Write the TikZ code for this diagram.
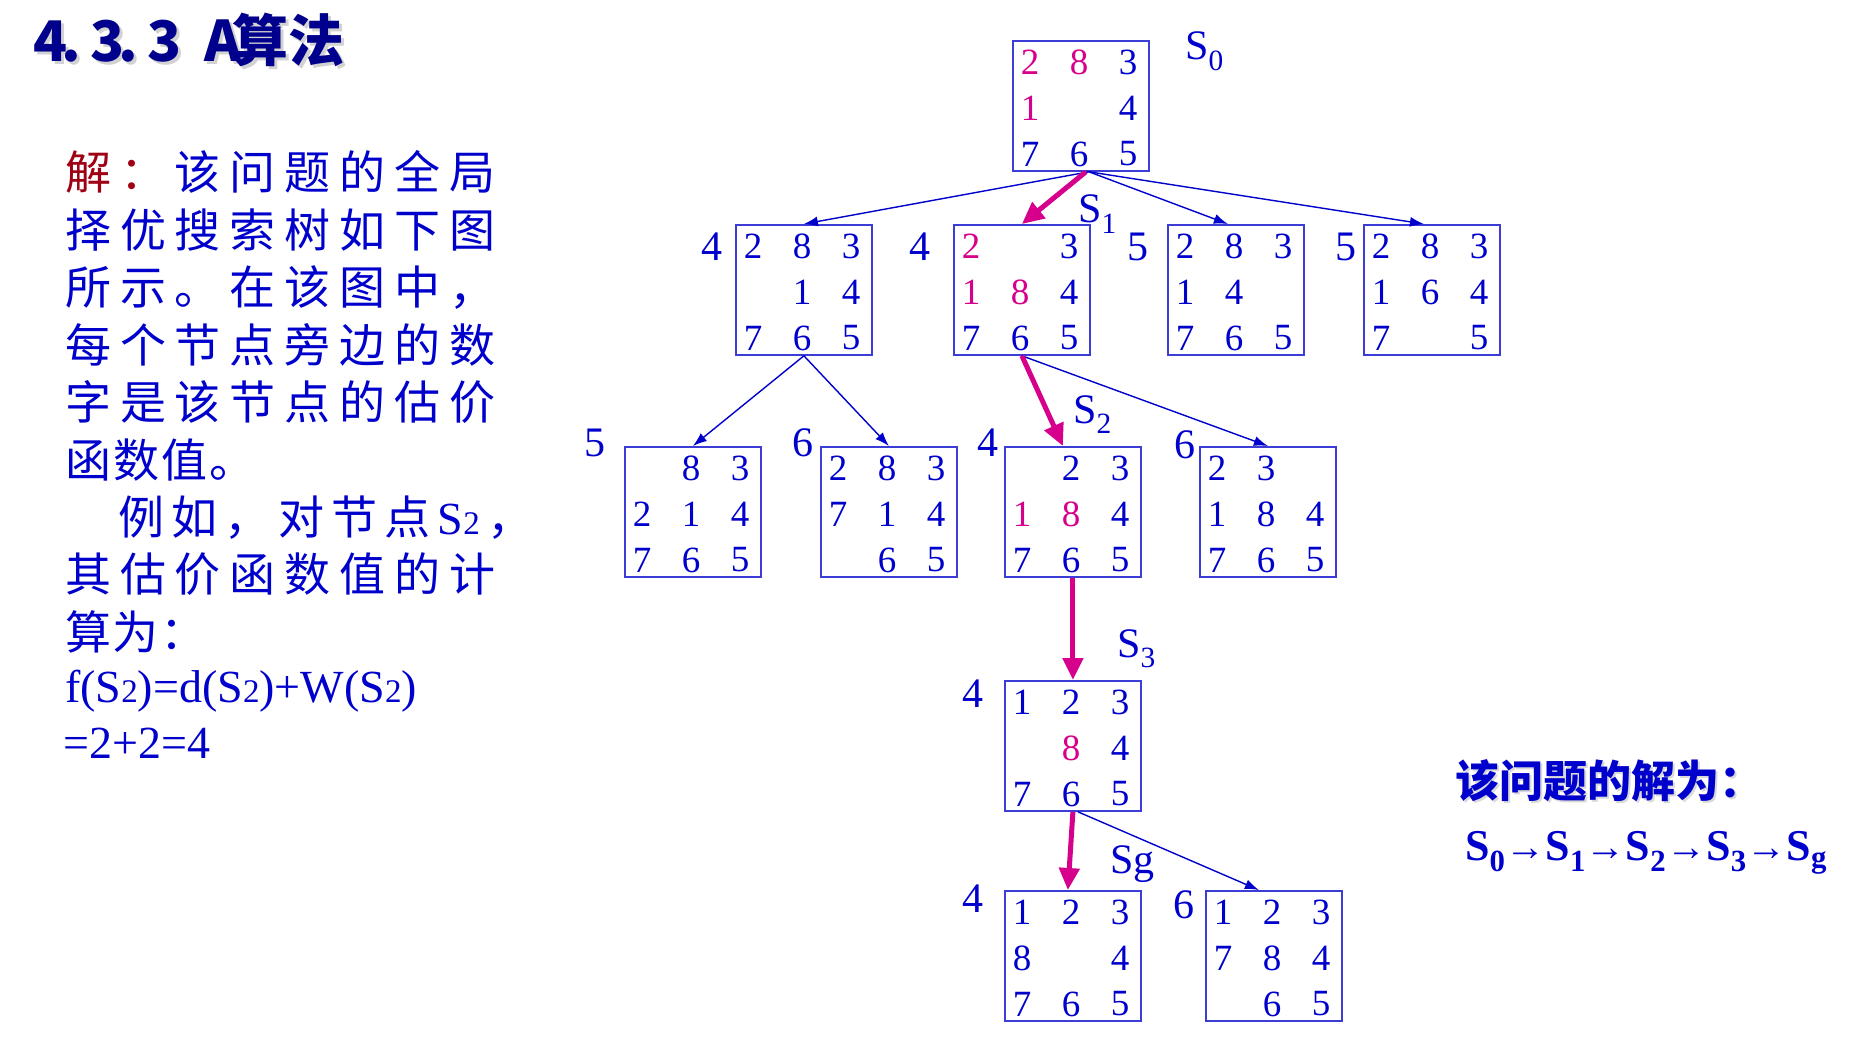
\documentclass[tikz,border=0pt]{standalone}
\usepackage{fontspec}
\setmainfont{Liberation Serif}
\newfontfamily\cjk{Noto Sans CJK SC}
\usetikzlibrary{arrows.meta,calc}

\definecolor{numblue}{RGB}{0,0,205}
\definecolor{frameblue}{RGB}{60,60,215}
\definecolor{pathpink}{RGB}{214,0,140}
\definecolor{titlenavy}{RGB}{0,0,140}
\definecolor{solred}{RGB}{160,0,20}

\def\pk#1{\textcolor{pathpink}{#1}}
\def\jie{\textcolor{solred}{解}}
\def\jiec{\textcolor{solred}{：}}
\def\Stwo{{\rmfamily S{\fontsize{33}{33}\selectfont 2}}}
\def\half#1{\makebox[28.5pt][l]{#1}}
\def\chainarrow{{\fontsize{40}{40}\selectfont →}}
% justified line: glue between every token
\def\spreadline#1#2{\makebox[#1pt][s]{\expandafter\spreadfirst#2\spreadend}}
\def\spreadfirst#1{#1\spreadrest}
\def\spreadrest#1{\ifx\spreadend#1\else\hfil#1\expandafter\spreadrest\fi}
\def\spreadend{}
% 3x3 board: name, top left corner, nine cells
\def\board#1(#2)#3{%
  \node[board] (#1) at (#2) {};
  \foreach \cell [count=\i from 0] in {#3} {
    \pgfmathtruncatemacro\col{mod(\i,3)}
    \pgfmathtruncatemacro\row{div(\i,3)}
    \node[tile] at ($(#1.north west)+(18+49*\col,22+46*\row)$) {\cell};
  }
}

\begin{document}
\begin{tikzpicture}[x=1pt,y=-1pt,
  board/.style={draw=frameblue, line width=1.8pt, minimum width=136pt, minimum height=130pt, inner sep=0pt, anchor=north west},
  tile/.style={text=numblue, font=\fontsize{37}{37}\selectfont, inner sep=0pt},
  est/.style={text=numblue, font=\fontsize{42}{42}\selectfont, inner sep=0pt},
  tag/.style={text=numblue, font=\fontsize{42}{42}\selectfont, inner sep=0pt, anchor=base west},
  textline/.style={text=numblue, font=\cjk\fontsize{46}{46}\selectfont, inner sep=0pt, anchor=base west},
  expand/.style={draw=numblue, line width=1.4pt, -{Latex[length=14pt,width=10pt]}},
  best/.style={draw=pathpink, line width=5pt, -{Triangle[length=22pt,width=20pt]}}]

  \fill[white] (0,0) rectangle (1876,1040);
  \useasboundingbox (0,0) rectangle (1876,1040);

  %%%%% title %%%%%
  \node[anchor=base west, inner sep=0pt, text=gray!35, font=\cjk\bfseries\fontsize{56}{56}\selectfont] (title-shadow) at (36,65)
    {\half{4}\half{.}\half{3}\half{.}\half{3}\half{}\half{A}算法};
  \node[anchor=base west, inner sep=0pt, text=titlenavy, font=\cjk\bfseries\fontsize{56}{56}\selectfont] (title) at (33,62)
    {\half{4}\half{.}\half{3}\half{.}\half{3}\half{}\half{A}算法};

  %%%%% left text %%%%%
  \foreach \w/\txt [count=\i] in {
    430/\jie\jiec 该问题的全局,
    430/择优搜索树如下图,
    430/所示。在该图中，,
    430/每个节点旁边的数,
    430/字是该节点的估价,
    190/函数值。,
    468/　例如，对节点\Stwo，,
    430/其估价函数值的计,
    141/算为：}
    \node[textline] (l\i) at (65,190+57.4*\i-57.4) {\spreadline{\w}{\txt}};
  \node[textline, font=\fontsize{46}{46}\selectfont] (f1) at (65,702) {f(\Stwo)=d(\Stwo)+W(\Stwo)};
  \node[textline, font=\fontsize{46}{46}\selectfont] (f2) at (63,758) {=2+2=4};

  %%%%% search tree %%%%%
  \board S0(1012,40){\pk2,\pk8,3,\pk1,,4,7,6,5}
  \board n11(735,224){2,8,3,,1,4,7,6,5}
  \board S1(953,224){\pk2,,3,\pk1,\pk8,4,7,6,5}
  \board n13(1167,224){2,8,3,1,4,,7,6,5}
  \board n14(1363,224){2,8,3,1,6,4,7,,5}
  \board n21(624,446){,8,3,2,1,4,7,6,5}
  \board n22(820,446){2,8,3,7,1,4,,6,5}
  \board S2(1004,446){,2,3,\pk1,\pk8,4,7,6,5}
  \board n24(1199,446){2,3,,1,8,4,7,6,5}
  \board S3(1004,680){1,2,3,,\pk8,4,7,6,5}
  \board Sg(1004,890){1,2,3,8,,4,7,6,5}
  \board n42(1205,890){1,2,3,7,8,4,,6,5}

  % estimates
  \foreach \b/\v/\x/\y in {n11/4/712/247, S1/4/920/247, n13/5/1138/247, n14/5/1346/247,
      n21/5/595/443, n22/6/803/443, S2/4/988/443, n24/6/1185/445,
      S3/4/973/694, Sg/4/973/899, n42/6/1184/905}
    \node[est] (f-\b) at (\x,\y) {\v};

  % state names
  \node[tag] (t-S0) at (1185,60) {S\textsubscript{0}};
  \node[tag] (t-S1) at (1078,223) {S\textsubscript{1}};
  \node[tag] (t-S2) at (1073,423) {S\textsubscript{2}};
  \node[tag] (t-S3) at (1117,657) {S\textsubscript{3}};
  \node[tag] (t-Sg) at (1110,873) {Sg};

  % edges
  \draw[expand] ([xshift=8]S0.south) -- (n11.north);
  \draw[expand] ([xshift=8]S0.south) -- ([xshift=-8]n13.north);
  \draw[expand] ([xshift=8]S0.south) -- ([xshift=-8]n14.north);
  \draw[best] ([xshift=5]S0.south) -- (S1.north);
  \draw[expand] (n11.south) -- (n21.north);
  \draw[expand] (n11.south) -- (n22.north);
  \draw[expand] (S1.south) -- (n24.north);
  \draw[best] (S1.south) -- ([xshift=-10]S2.north);
  \draw[best] (S2.south) -- (S3.north);
  \draw[expand] ([xshift=5]S3.south) -- ([xshift=-15]n42.north);
  \draw[best] (S3.south) -- ([xshift=-5]Sg.north);

  %%%%% answer %%%%%
  \node[anchor=base west, inner sep=0pt, text=gray!30, font=\cjk\bfseries\fontsize{44}{44}\selectfont] (ans-shadow) at (1457,799) {该问题的解为：};
  \node[anchor=base west, inner sep=0pt, text=numblue, font=\cjk\bfseries\fontsize{44}{44}\selectfont] (ans) at (1455,797) {该问题的解为：};
  \node[anchor=base west, inner sep=0pt, text=numblue, font=\bfseries\fontsize{44}{44}\selectfont] (chain) at (1465,860)
    {S\textsubscript{0}\chainarrow S\textsubscript{1}\chainarrow S\textsubscript{2}\chainarrow S\textsubscript{3}\chainarrow S\textsubscript{g}};
\end{tikzpicture}
\end{document}
